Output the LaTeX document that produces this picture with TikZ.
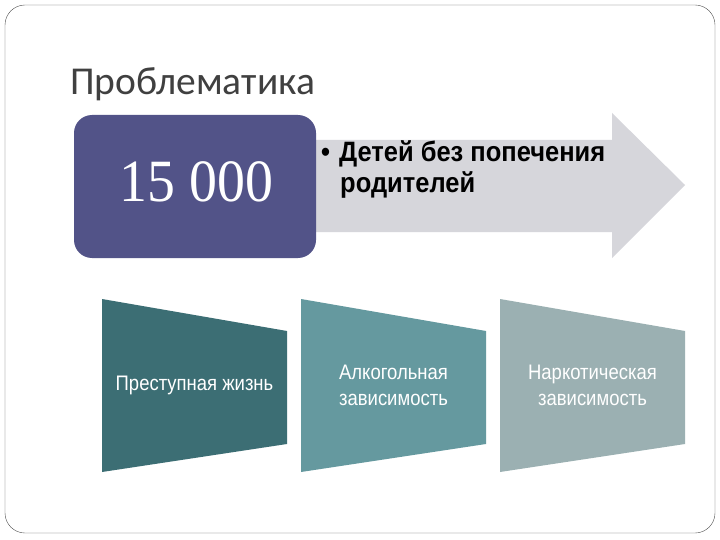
\documentclass[tikz,border=0pt]{standalone}
\usepackage{fontspec}
\setmainfont{Carlito}
\newfontfamily\narrowsans[FakeStretch=0.88]{Liberation Sans}
\newfontfamily\topsans[FakeStretch=0.91]{Liberation Sans}
\newfontfamily\numserif[FakeStretch=0.93]{Liberation Serif}
\definecolor{framegray}{RGB}{80,80,80}
\definecolor{titlegray}{RGB}{64,64,64}
\definecolor{boxpurple}{RGB}{82,83,136}
\definecolor{arrowgray}{RGB}{214,214,219}
\definecolor{tealdark}{RGB}{60,110,116}
\definecolor{tealmid}{RGB}{101,153,159}
\definecolor{tealpale}{RGB}{155,176,178}
\tikzset{lowtext/.style={white, font=\narrowsans\fontsize{21}{26}\selectfont, align=center, inner sep=0pt},
  toptext/.style={anchor=base west, inner sep=0pt, font=\topsans\bfseries\fontsize{28}{31}\selectfont}}

\begin{document}
\begin{tikzpicture}[x=1pt,y=-1pt]
          \useasboundingbox (0,0) rectangle (720,540);
          \fill[white] (0,0) rectangle (720,540);
          \draw[framegray,rounded corners=20] (5,5) rectangle (715,533);
          \node[anchor=base west, inner sep=0pt, titlegray,
          font=\fontsize{39.5}{44}\selectfont] (title) at (70,95) {Проблематика};
          % arrow behind the number box
          \fill[arrowgray] (300,140) -- (612,140) -- (612,113) -- (685,185)
          -- (612,258) -- (612,232) -- (300,232) -- cycle;
          \fill[boxpurple,rounded corners=18] (74,115) rectangle (316,258);
          \node[white, inner sep=0pt, font=\numserif\fontsize{60}{62}\selectfont]
          (count) at (196.5,182) {15 000};
          \node[toptext] (kids) at (321,162) {•\hspace{9pt}Детей без попечения};
          \node[toptext] (parents) at (340,193) {родителей};
          % three trapezoids
          \foreach \x/\c in {102/tealdark,301/tealmid,500/tealpale}
          \fill[\c] (\x,299) -- (\x+185,331) -- (\x+185,444) -- (\x,472) -- cycle;
          \node[lowtext] (crime) at (194.5,385) {Преступная жизнь};
          \node[lowtext] (alcohol) at (393.5,385) {Алкогольная\\зависимость};
          \node[lowtext] (drugs) at (592.5,385) {Наркотическая\\зависимость};
        \end{tikzpicture}
\end{document}
